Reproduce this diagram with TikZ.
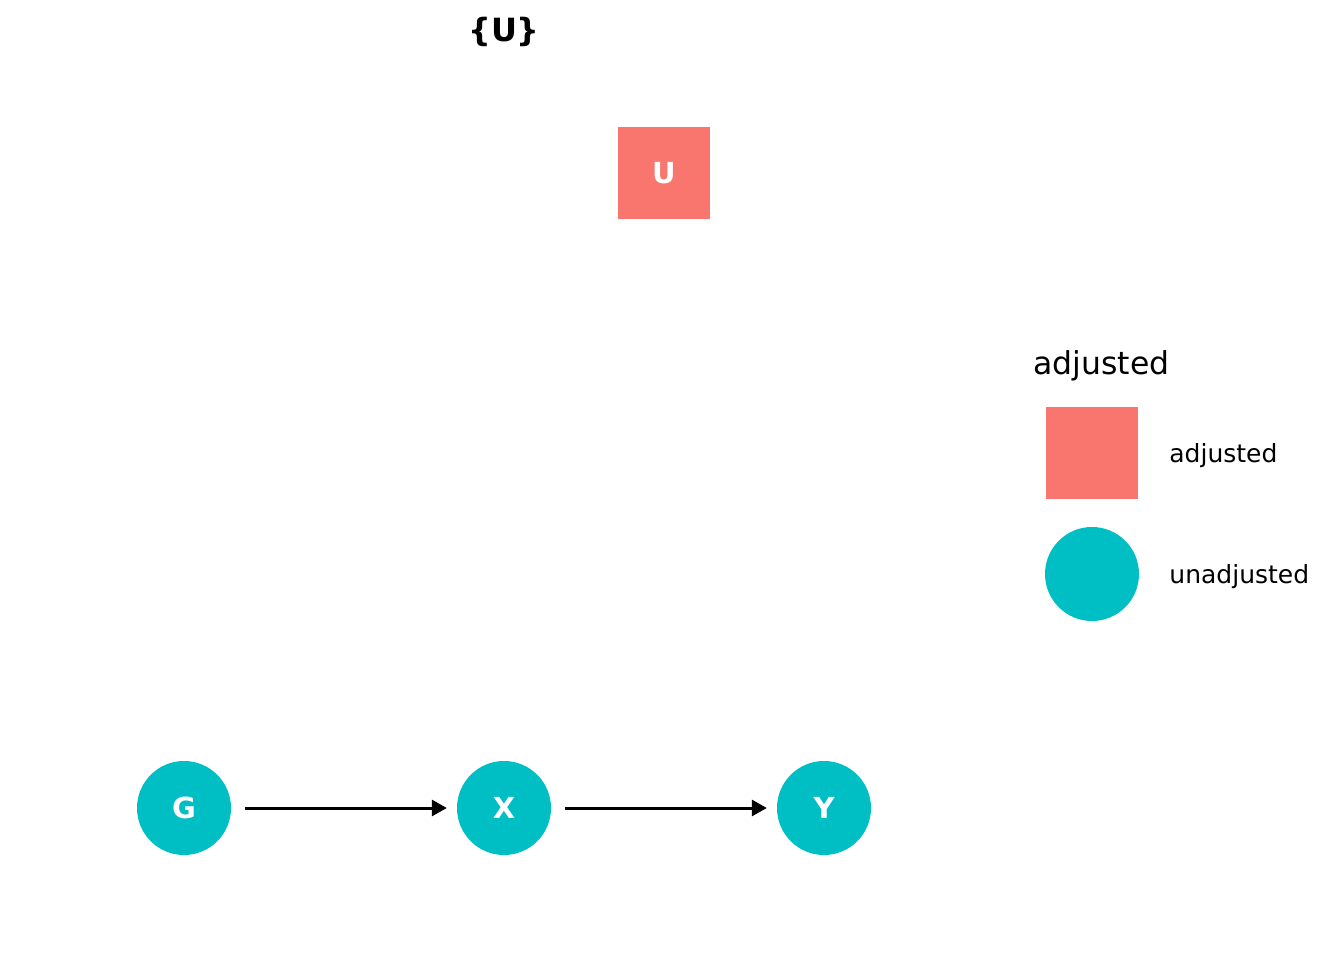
\documentclass[tikz,border=0pt]{standalone}
\usepackage{fontspec}
\setmainfont{DejaVu Sans}
\usetikzlibrary{positioning,arrows.meta}
\definecolor{adjred}{HTML}{F8766D}
\definecolor{unadjcyan}{HTML}{00BFC4}
\tikzset{
	adj/.style={rectangle,fill=adjred,minimum size=92pt,inner sep=0pt,text=white,font=\fontsize{29}{34}\selectfont\bfseries},
	unadj/.style={circle,fill=unadjcyan,minimum size=94pt,inner sep=0pt,text=white,font=\fontsize{29}{34}\selectfont\bfseries},
	edge/.style={-{Triangle[length=15pt,width=16pt]},line width=3pt,shorten <=14pt,shorten >=10pt},
	keytext/.style={anchor=west,inner sep=0pt,yshift=-3pt,font=\fontsize{25}{30}\selectfont}
}
\begin{document}
\begin{tikzpicture}[x=1pt,y=-1pt]
		\useasboundingbox (0,0) rectangle (1344,960);
		\node[font=\fontsize{32}{36}\selectfont\bfseries] (title) at (504,32) {\{U\}};
		
		\node[adj] (u) at (664,173) {U};
		\node[unadj] (g) at (184,808) {G};
		\node[unadj] (x) at (504,808) {X};
		\node[unadj] (y) at (824,808) {Y};
		\draw[edge] (g)--(x);
		\draw[edge] (x)--(y);
		
		% legend
		\node[keytext,font=\fontsize{31.5}{36}\selectfont] (keytitle) at (1033,363) {adjusted};
		\node[adj] (keyadj) at (1092,453) {};
		\node[unadj] (keyunadj) at (1092,574) {};
		\node[keytext,right=31pt of keyadj] (keyadjlbl) {adjusted};
		\node[keytext,right=30pt of keyunadj] (keyunadjlbl) {unadjusted};
	\end{tikzpicture}
\end{document}
